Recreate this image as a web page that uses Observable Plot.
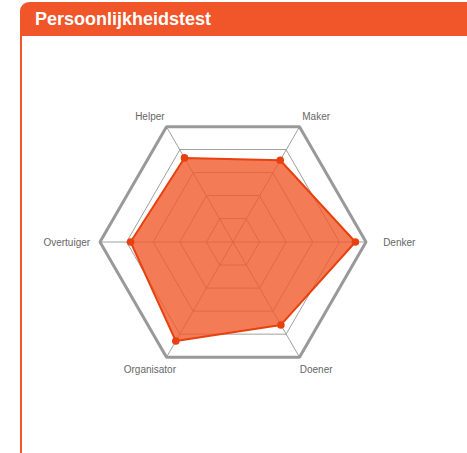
<!DOCTYPE html>
<html>
<head>
<meta charset="utf-8">
<script src="https://cdn.jsdelivr.net/npm/d3@7"></script>
<script src="https://cdn.jsdelivr.net/npm/@observablehq/plot@0.6"></script>
<style>
  html, body { margin: 0; padding: 0; background: #fff; width: 467px; height: 453px; overflow: hidden; }
  #header { position: absolute; left: 20px; top: 2px; width: 447px; height: 34px; background: #f0562a;
            border-top-left-radius: 9px; }
  #header span { position: absolute; left: 15px; top: 0; line-height: 34px; color: #fff;
                 font-family: "Liberation Sans", Arial, sans-serif; font-weight: bold; font-size: 18px; }
  #border { position: absolute; left: 20px; top: 35px; width: 2px; height: 418px; background: #f0562a; }
  #chart { position: absolute; left: 0; top: 37px; }
</style>
</head>
<body>
<div id="header"><span>Persoonlijkheidstest</span></div>
<div id="border"></div>
<div id="chart"></div>
<script>
const title = "Persoonlijkheidstest";
const categories = ["Maker", "Denker", "Doener", "Organisator", "Overtuiger", "Helper"];
const scores = [71, 92, 72, 86, 77, 73];
const levels = [20, 40, 60, 80, 100];
const maxScore = 100;

const angleOf = i => (60 - i * 60) * Math.PI / 180;
const rad = (i, v) => ({x: Math.cos(angleOf(i)) * v, y: Math.sin(angleOf(i)) * v});

const rings = levels.flatMap(l => categories.map((c, i) => ({level: l, ...rad(i, l)})));
const spokes = categories.map((c, i) => ({...rad(i, maxScore)}));
const poly = categories.map((c, i) => ({name: c, value: scores[i], ...rad(i, scores[i])}));
const labels = categories.map((c, i) => {
  const a = angleOf(i);
  const s = Math.abs(Math.sin(a)) > 0.01 ? Math.sign(Math.sin(a)) : 0;
  return {name: c, x: Math.cos(a) * maxScore * 1.25, y: Math.sin(a) * maxScore + s * 8.5 - 0.75};
});

const cx = 232.5, cy = 204.5, R = 133;
const chart = Plot.plot({
  width: 467,
  height: 416,
  margin: 0,
  x: {domain: [-maxScore, maxScore], range: [cx - R, cx + R], axis: null},
  y: {domain: [-maxScore, maxScore], range: [cy + R, cy - R], axis: null},
  style: {fontFamily: "'Liberation Sans', Arial, sans-serif", background: "transparent"},
  marks: [
    Plot.line(rings.filter(d => d.level < maxScore), {x: "x", y: "y", z: "level", curve: "linear-closed",
      stroke: "#a0a0a0", strokeWidth: 1}),
    Plot.link(spokes, {x1: 0, y1: 0, x2: "x", y2: "y", stroke: "#a0a0a0", strokeWidth: 1}),
    Plot.line(rings.filter(d => d.level === maxScore), {x: "x", y: "y", curve: "linear-closed",
      stroke: "#999999", strokeWidth: 3, strokeLinejoin: "miter"}),
    Plot.line(poly, {x: "x", y: "y", curve: "linear-closed", fill: "#f05a2a", fillOpacity: 0.8, stroke: "none"}),
    Plot.line(poly, {x: "x", y: "y", curve: "linear-closed", stroke: "#e8410f", strokeWidth: 2}),
    Plot.dot(poly, {x: "x", y: "y", r: 3.8, fill: "#e8410f", stroke: "none"}),
    Plot.text(labels, {x: "x", y: "y", text: "name", fill: "#666", fontSize: 10,
      textAnchor: "middle", lineAnchor: "middle"})
  ]
});
document.getElementById("chart").appendChild(chart);
</script>
</body>
</html>
